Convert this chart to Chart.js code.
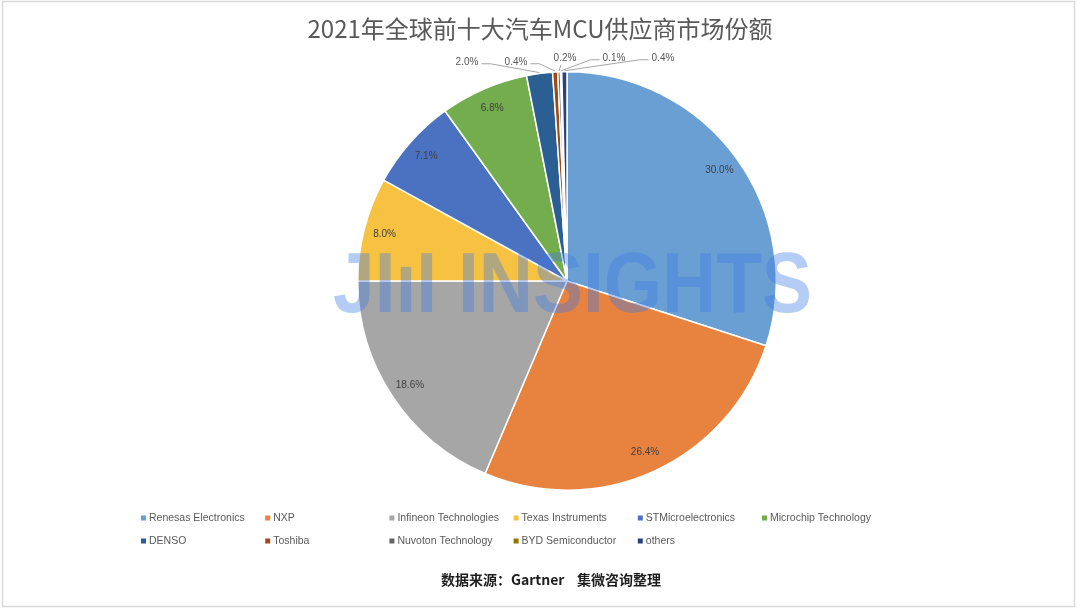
<!DOCTYPE html>
<html>
<head>
<meta charset="utf-8">
<title>2021年全球前十大汽车MCU供应商市场份额</title>
<script src="https://cdn.jsdelivr.net/npm/chart.js@4.4.1/dist/chart.umd.min.js"></script>
<style>
    html, body { margin: 0; padding: 0; background: #ffffff; }
    #wrap { position: relative; width: 1080px; height: 611px; }
</style>
</head>
<body>
<div id="wrap"><canvas id="mcuChart" width="1080" height="611"></canvas></div>
<script>
// Chart data
const vendors = [
    'Renesas Electronics', 'NXP', 'Infineon Technologies', 'Texas Instruments',
    'STMicroelectronics', 'Microchip Technology', 'DENSO', 'Toshiba',
    'Nuvoton Technology', 'BYD Semiconductor', 'others'
];
const shares = [30.0, 26.4, 18.6, 8.0, 7.1, 6.8, 2.0, 0.4, 0.2, 0.1, 0.4];
const sliceColors = [
    '#6a9fd4', '#e8823f', '#a6a6a6', '#f7c242', '#4a72c1', '#74ad4d',
    '#2b5f93', '#9e4a17', '#646464', '#997300', '#264478'
];
const chartTitle = '2021年全球前十大汽车MCU供应商市场份额';
const sourceNote = '数据来源：Gartner    集微咨询整理';
const watermarkText = 'JIıI INSIGHTS';

// Frame + white background
const framePlugin = {
    id: 'frame',
    beforeDraw(chart) {
        const ctx = chart.ctx;
        ctx.save();
        ctx.fillStyle = '#ffffff';
        ctx.fillRect(0, 0, chart.width, chart.height);
        ctx.strokeStyle = '#d9d9d9';
        ctx.lineWidth = 1.5;
        ctx.strokeRect(2.5, 1.5, 1072, 605);
        ctx.restore();
    }
};

// Title, legend grid and source line
const textPlugin = {
    id: 'texts',
    afterDraw(chart) {
        const ctx = chart.ctx;
        ctx.save();
        ctx.textBaseline = 'middle';

        ctx.fillStyle = '#595959';
        ctx.textAlign = 'center';
        ctx.font = '24px "Noto Sans CJK SC"';
        ctx.fillText(chartTitle, 540, 29);

        ctx.textAlign = 'left';
        ctx.font = '10.5px "Liberation Sans"';
        vendors.forEach((name, i) => {
            const col = i % 6;
            const row = Math.floor(i / 6);
            const x = 141 + col * 124.2;
            const y = 518 + row * 23;
            ctx.fillStyle = sliceColors[i];
            ctx.fillRect(x, y - 2.5, 5, 5);
            ctx.fillStyle = '#595959';
            ctx.fillText(name, x + 8, y);
        });

        ctx.textAlign = 'center';
        ctx.fillStyle = '#1e1e1e';
        ctx.font = 'bold 14px "Noto Sans CJK SC"';
        ctx.fillText(sourceNote, 551, 580);
        ctx.restore();
    }
};

// Watermark and percentage labels
const labelPlugin = {
    id: 'sliceLabels',
    afterDatasetsDraw(chart) {
        const ctx = chart.ctx;
        const arcs = chart.getDatasetMeta(0).data;
        ctx.save();

        // watermark over the pie
        ctx.font = 'bold 85px "Liberation Sans"';
        const w = ctx.measureText(watermarkText).width;
        ctx.translate(333, 312);
        ctx.scale(479 / w, 1);
        ctx.fillStyle = 'rgba(60, 120, 230, 0.38)';
        ctx.textAlign = 'left';
        ctx.textBaseline = 'alphabetic';
        ctx.fillText(watermarkText, 0, 0);
        ctx.setTransform(1, 0, 0, 1, 0, 0);
        ctx.scale(chart.currentDevicePixelRatio, chart.currentDevicePixelRatio);

        ctx.font = '10px "Liberation Sans"';
        ctx.textAlign = 'center';
        ctx.textBaseline = 'middle';

        const small = [];
        arcs.forEach((arc, i) => {
            const p = arc.getProps(['x', 'y', 'startAngle', 'endAngle', 'outerRadius'], true);
            const mid = (p.startAngle + p.endAngle) / 2;
            const text = shares[i].toFixed(1) + '%';
            if (shares[i] >= 3) {
                ctx.fillStyle = '#404040';
                ctx.fillText(text, p.x + Math.cos(mid) * p.outerRadius * 0.9,
                    p.y + Math.sin(mid) * p.outerRadius * 0.9);
            } else {
                small.push({ text, ax: p.x + Math.cos(mid) * (p.outerRadius + 1),
                    ay: p.y + Math.sin(mid) * (p.outerRadius + 1), cx: p.x, top: p.y - p.outerRadius });
            }
        });

        // small slices: labels in a row above the pie with leader lines
        ctx.strokeStyle = '#a6a6a6';
        ctx.lineWidth = 1;
        small.forEach((s, k) => {
            const lx = s.cx + (k - (small.length - 1) / 2) * 49 - 2;
            const ly = s.top - (k < 2 ? 10 : 14);
            const tw = ctx.measureText(s.text).width;
            ctx.fillStyle = '#595959';
            ctx.fillText(s.text, lx, ly);
            ctx.beginPath();
            if (lx + tw / 2 < s.ax - 4) {
                ctx.moveTo(lx + tw / 2 + 3, ly + 2);
                ctx.lineTo(lx + tw / 2 + 12, ly + 2);
            } else if (lx - tw / 2 > s.ax + 4) {
                ctx.moveTo(lx - tw / 2 - 3, ly + 2);
                ctx.lineTo(lx - tw / 2 - 12, ly + 2);
            } else {
                ctx.moveTo(lx - 4, ly + 7);
            }
            ctx.lineTo(s.ax, s.ay);
            ctx.stroke();
        });
        ctx.restore();
    }
};

new Chart(document.getElementById('mcuChart'), {
    type: 'pie',
    data: {
        labels: vendors,
        datasets: [{
            data: shares,
            backgroundColor: sliceColors,
            borderColor: '#ffffff',
            borderWidth: 1.5
        }]
    },
    options: {
        responsive: false,
        animation: false,
        layout: {
            padding: { top: 71, bottom: 120, left: 300, right: 246 }
        },
        plugins: {
            legend: { display: false },
            title: { display: false },
            tooltip: { enabled: false }
        }
    },
    plugins: [framePlugin, labelPlugin, textPlugin]
});
</script>
</body>
</html>
